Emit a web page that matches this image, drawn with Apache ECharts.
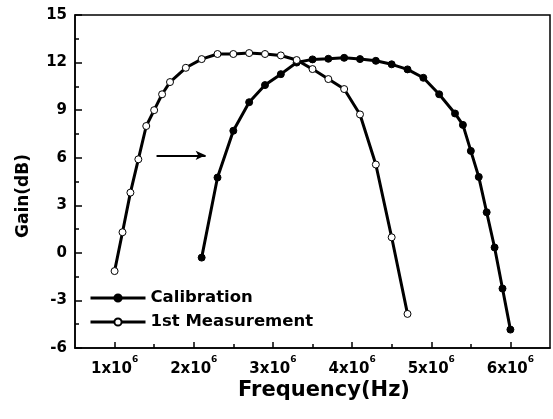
<!DOCTYPE html>
<html>
<head>
<meta charset="utf-8">
<script src="https://cdn.jsdelivr.net/npm/echarts@6/dist/echarts.min.js"></script>
<style>html,body{margin:0;padding:0;background:#fff;}#c{width:553px;height:419px;}</style>
</head>
<body>
<div id="c"></div>
<script>
// ---- data (frequency in Hz, gain in dB) ----
var calFreq = [2.1e6, 2.3e6, 2.5e6, 2.7e6, 2.9e6, 3.1e6, 3.3e6, 3.5e6, 3.7e6, 3.9e6, 4.1e6, 4.3e6, 4.5e6, 4.7e6, 4.9e6, 5.1e6, 5.3e6, 5.4e6, 5.5e6, 5.6e6, 5.7e6, 5.8e6, 5.9e6, 6.0e6];
var calGain = [-0.3, 4.75, 7.7, 9.5, 10.58, 11.27, 12.0, 12.2, 12.24, 12.3, 12.22, 12.11, 11.89, 11.57, 11.04, 10.0, 8.79, 8.07, 6.43, 4.79, 2.56, 0.34, -2.25, -4.84];
var measFreq = [1.0e6, 1.1e6, 1.2e6, 1.3e6, 1.4e6, 1.5e6, 1.6e6, 1.7e6, 1.9e6, 2.1e6, 2.3e6, 2.5e6, 2.7e6, 2.9e6, 3.1e6, 3.3e6, 3.5e6, 3.7e6, 3.9e6, 4.1e6, 4.3e6, 4.5e6, 4.7e6];
var measGain = [-1.15, 1.3, 3.8, 5.9, 8.0, 9.0, 10.0, 10.77, 11.67, 12.22, 12.54, 12.54, 12.6, 12.54, 12.45, 12.16, 11.59, 10.96, 10.33, 8.73, 5.57, 0.98, -3.85];
var seriesNames = ['Calibration', '1st Measurement'];
var xMajorTicks = [1e6, 2e6, 3e6, 4e6, 5e6, 6e6];
var xMinorTicks = [1.5e6, 2.5e6, 3.5e6, 4.5e6, 5.5e6];
var arrowStart = [1.53e6, 6.15];
var arrowEnd = [2.15e6, 6.15];
var xTitle = 'Frequency(Hz)';
var yTitle = 'Gain(dB)';

function pairs(xs, ys) { return xs.map(function (x, i) { return [x, ys[i]]; }); }

var FONT = 'DejaVu Sans';
var chart = echarts.init(document.getElementById('c'), null, {renderer: 'canvas'});
chart.setOption({
  animation: false,
  backgroundColor: '#fff',
  grid: {left: 75, right: 3, top: 15, bottom: 71, show: true, borderColor: '#000', borderWidth: 1.5, backgroundColor: 'transparent'},
  legend: {
    orient: 'vertical', left: 89, top: 289, padding: 0, itemWidth: 55, itemHeight: 9, itemGap: 6,
    data: seriesNames,
    lineStyle: {width: 3},
    textStyle: {fontFamily: FONT, fontWeight: 'bold', fontSize: 16.5, color: '#000', lineHeight: 18}
  },
  graphic: [
    {type: 'text', x: 324, y: 391, silent: true,
     style: {text: xTitle, fontFamily: FONT, fontWeight: 'bold', fontSize: 21, fill: '#000', align: 'center', verticalAlign: 'middle'}},
    {type: 'text', x: 24, y: 196, rotation: Math.PI / 2, silent: true,
     style: {text: yTitle, fontFamily: FONT, fontWeight: 'bold', fontSize: 17, fill: '#000', align: 'center', verticalAlign: 'middle'}}
  ],
  xAxis: [{
    type: 'value', min: 0.5e6, max: 6.5e6,
    axisLine: {show: true, onZero: false, lineStyle: {color: '#000', width: 1.5}},
    axisTick: {show: true, inside: true, length: 6, lineStyle: {color: '#000', width: 1.5}, customValues: xMajorTicks},
    axisLabel: {
      customValues: xMajorTicks, margin: 7,
      formatter: function (v) { return '{b|' + Math.round(v / 1e6) + 'x10}{s|6}'; },
      rich: {
        b: {fontFamily: FONT, fontWeight: 'bold', fontSize: 15, color: '#000', lineHeight: 22, verticalAlign: 'bottom'},
        s: {fontFamily: FONT, fontWeight: 'bold', fontSize: 9, color: '#000', lineHeight: 12, verticalAlign: 'top'}
      }
    },
    splitLine: {show: false}
  }, {
    type: 'value', min: 0.5e6, max: 6.5e6, position: 'bottom', offset: 0,
    axisLine: {show: false, onZero: false},
    axisTick: {show: true, inside: true, length: 4, lineStyle: {color: '#000', width: 1.5}, customValues: xMinorTicks},
    axisLabel: {show: false},
    splitLine: {show: false}
  }],
  yAxis: {
    type: 'value', min: -6, max: 15, interval: 3,
    axisLine: {show: true, onZero: false, lineStyle: {color: '#000', width: 1.5}},
    axisTick: {show: true, inside: true, length: 7, lineStyle: {color: '#000', width: 1.5}},
    minorTick: {show: true, splitNumber: 2, length: 4, lineStyle: {color: '#000', width: 1.5}},
    axisLabel: {fontFamily: FONT, fontWeight: 'bold', fontSize: 15, color: '#000', margin: 8},
    splitLine: {show: false}
  },
  series: [{
    name: seriesNames[0], type: 'line', xAxisIndex: 0,
    data: pairs(calFreq, calGain),
    symbol: 'circle', symbolSize: 7,
    lineStyle: {color: '#000', width: 3},
    itemStyle: {color: '#000', borderColor: '#000', borderWidth: 1},
    emphasis: {disabled: true},
    markLine: {
      silent: true, symbol: ['none', 'arrow'], symbolSize: [7, 10],
      label: {show: false},
      lineStyle: {color: '#000', width: 1.8, type: 'solid'},
      data: [[{coord: arrowStart}, {coord: arrowEnd}]]
    }
  }, {
    name: seriesNames[1], type: 'line', xAxisIndex: 0,
    data: pairs(measFreq, measGain),
    symbol: 'circle', symbolSize: 7,
    lineStyle: {color: '#000', width: 3},
    itemStyle: {color: '#fff', borderColor: '#000', borderWidth: 1},
    emphasis: {disabled: true}
  }]
});
</script>
</body>
</html>
